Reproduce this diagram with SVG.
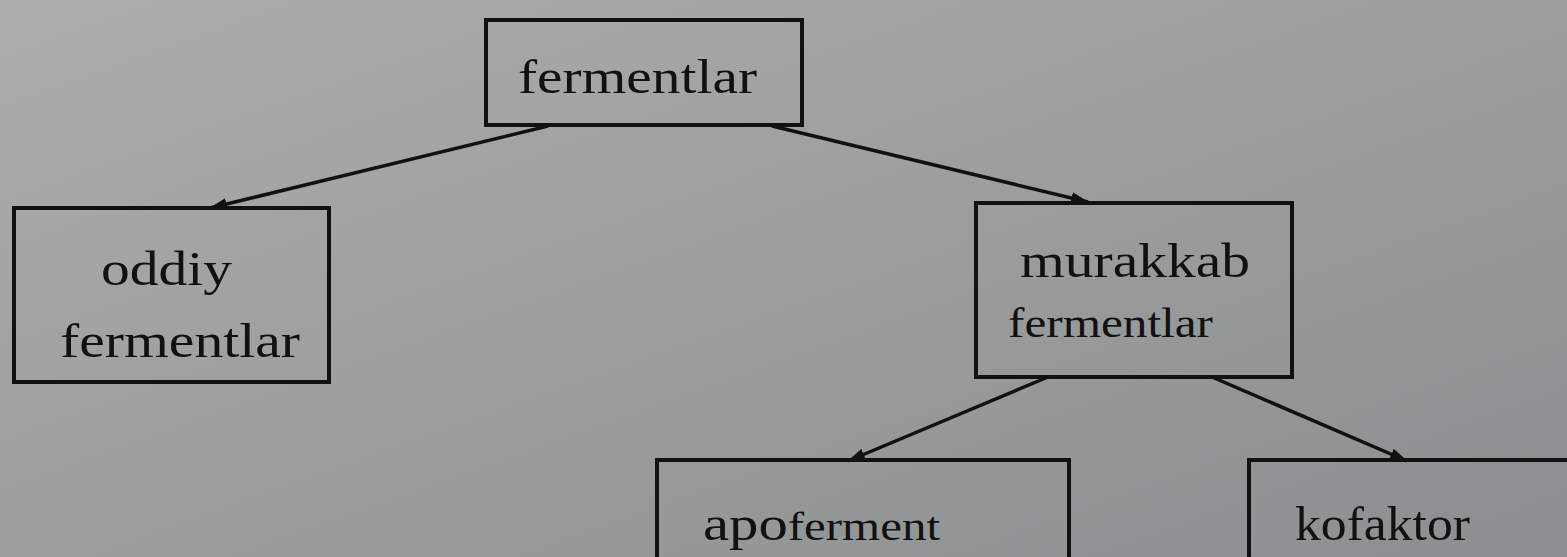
<svg xmlns="http://www.w3.org/2000/svg" width="1567" height="557" viewBox="0 0 1567 557">
<defs>
<linearGradient id="bg" x1="0" y1="0" x2="1" y2="1">
<stop offset="0" stop-color="#acaeac"/>
<stop offset="0.5" stop-color="#9c9e9e"/>
<stop offset="1" stop-color="#8c8f8f"/>
</linearGradient>
<marker id="ah" viewBox="0 0 18 12" refX="17" refY="6" markerWidth="18" markerHeight="12" markerUnits="userSpaceOnUse" orient="auto">
<path d="M0,0 L18,6 L0,12 z" fill="#111"/>
</marker>
<style>
.box{fill:none;stroke:#111;stroke-width:4}
.t{fill:#111}
.c{stroke:#111;stroke-width:3.5;fill:none}
</style>
</defs>
<rect width="1567" height="557" fill="url(#bg)"/>
<g id="connectors">
<line class="c" x1="548" y1="126" x2="210" y2="208" marker-end="url(#ah)"/>
<line class="c" x1="772" y1="126" x2="1088" y2="202" marker-end="url(#ah)"/>
<line class="c" x1="1048" y1="377" x2="848" y2="461" marker-end="url(#ah)"/>
<line class="c" x1="1212" y1="377" x2="1407" y2="461" marker-end="url(#ah)"/>
</g>
<g font-family="Liberation Serif, serif">
<g id="fermentlar">
<rect class="box" x="486" y="20" width="316" height="105"/>
<text class="t" x="518" y="93" font-size="48" textLength="239" lengthAdjust="spacingAndGlyphs">fermentlar</text>
</g>
<g id="oddiy">
<rect class="box" x="14" y="208" width="315" height="174"/>
<text class="t" x="101" y="285" font-size="48" textLength="131" lengthAdjust="spacingAndGlyphs">oddiy</text>
<text class="t" x="60" y="357" font-size="48" textLength="240" lengthAdjust="spacingAndGlyphs">fermentlar</text>
</g>
<g id="murakkab">
<rect class="box" x="976" y="203" width="316" height="174"/>
<text class="t" x="1020" y="277" font-size="48" textLength="230" lengthAdjust="spacingAndGlyphs">murakkab</text>
<text class="t" x="1008" y="337" font-size="42" textLength="205" lengthAdjust="spacingAndGlyphs">fermentlar</text>
</g>
<g id="apoferment">
<rect class="box" x="657" y="460" width="412" height="120"/>
<text class="t" x="703" y="540" font-size="48" textLength="237" lengthAdjust="spacingAndGlyphs">apo<tspan font-size="40">ferment</tspan></text>
</g>
<g id="kofaktor">
<rect class="box" x="1249" y="460" width="340" height="120"/>
<text class="t" x="1295" y="540" font-size="48" textLength="175" lengthAdjust="spacingAndGlyphs">kofaktor</text>
</g>
</g>
</svg>
